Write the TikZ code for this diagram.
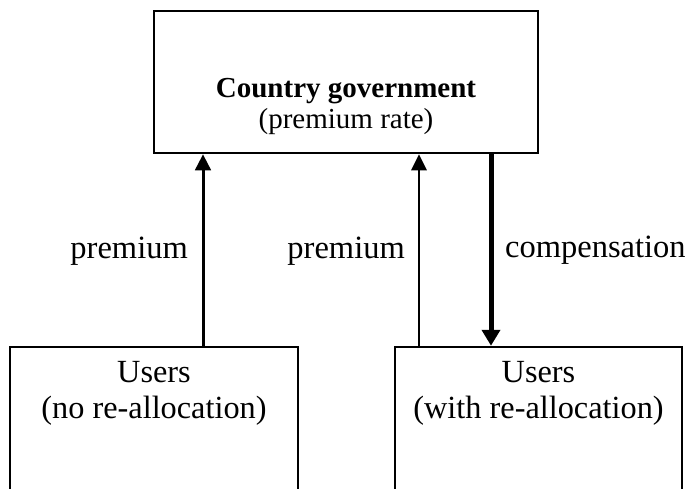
\documentclass[tikz,border=0pt]{standalone}
\usepackage{fontspec}
\setmainfont{Liberation Serif}
\usetikzlibrary{arrows.meta}
\begin{document}
\begin{tikzpicture}[x=1pt,y=-1pt,
  box/.style={draw,line width=2.5pt,rectangle,inner sep=0pt},
  boxtext/.style={anchor=base,inner sep=0pt,font=\fontsize{29}{31}\selectfont},
  usertext/.style={anchor=base,inner sep=0pt,font=\fontsize{32.3}{36}\selectfont},
  lbl/.style={inner sep=0pt,font=\fontsize{32.5}{36}\selectfont},
  uparrow/.style={-{Triangle[length=16pt,width=15.5pt]}},
]
\useasboundingbox (0,0) rectangle (688,488);
\clip (0,0) rectangle (688,488);
\fill[white] (0,0) rectangle (688,488);
% boxes
\node[box,minimum width=384pt,minimum height=142pt] (gov) at (346,82) {};
\node[box,minimum width=288pt,minimum height=200pt] (u1) at (154,447) {};
\node[box,minimum width=287pt,minimum height=200pt] (u2) at (538.5,447) {};
% texts
\node[boxtext] (govname) at (346,97) {\bfseries Country government};
\node[boxtext] (govrate) at (346,128) {(premium rate)};
\node[usertext] (u1a) at (154,382) {Users};
\node[usertext] (u1b) at (154,418) {(no re-allocation)};
\node[usertext] (u2a) at (538.5,382) {Users};
\node[usertext] (u2b) at (538.5,418) {(with re-allocation)};
% arrows
\draw[uparrow,line width=3pt] ([xshift=49pt]u1.north) -- ([xshift=49pt]u1.north |- gov.south);
\draw[uparrow,line width=1.6pt] ([xshift=-119.5pt]u2.north) -- ([xshift=-119.5pt]u2.north |- gov.south);
\draw[-{Triangle[length=16pt,width=18pt]},line width=5pt] ([xshift=-47.5pt]u2.north |- gov.south) -- ([xshift=-47.5pt]u2.north);
% labels
\node[lbl,anchor=base east] (l1) at (188,258) {premium};
\node[lbl,anchor=base east] (l2) at (405,258) {premium};
\node[lbl,anchor=base west] (l3) at (505,257) {compensation};
\end{tikzpicture}
\end{document}
